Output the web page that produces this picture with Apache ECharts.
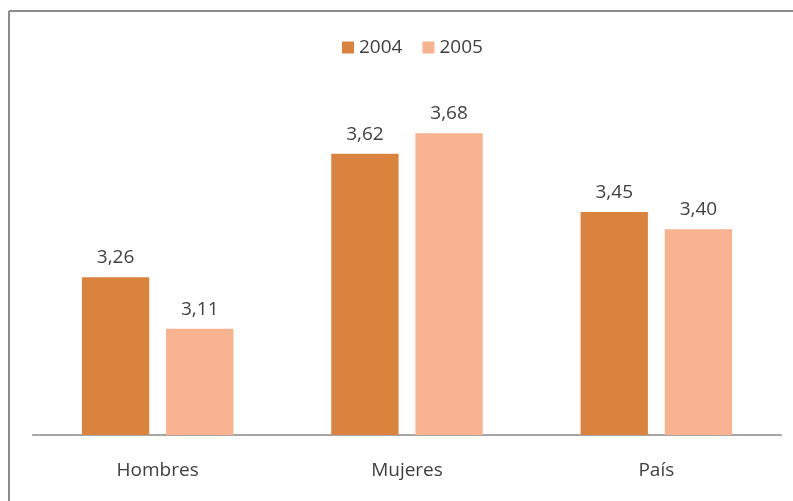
<!DOCTYPE html>
<html>
<head>
<meta charset="utf-8">
<script src="https://cdn.jsdelivr.net/npm/echarts@6/dist/echarts.min.js"></script>
<style>
  html, body { margin: 0; padding: 0; background: #fff; }
  #main { width: 793px; height: 501px; }
</style>
</head>
<body>
<div id="main"></div>
<script>
// datos
let categorias = ["Hombres", "Mujeres", "País"]
let anios = ["2004", "2005"]
let valores2004 = [3.26, 3.62, 3.45]
let valores2005 = [3.11, 3.68, 3.40]

let colores = ["#D9833E", "#F7B38F"]
let fuente = "Open Sans"

var myChart = echarts.init(document.getElementById('main'))

function etiqueta(p) {
  return p.value.toFixed(2).replace(".", ",")
}

var option = {
  animation: false,
  backgroundColor: '#fff',
  textStyle: { fontFamily: fuente },
  legend: {
    data: anios,
    icon: 'rect',
    top: 33,
    left: 337,
    itemWidth: 12,
    itemHeight: 12,
    itemGap: 20,
    textStyle: { fontSize: 19, color: '#404040', fontFamily: fuente }
  },
  grid: { left: 33, right: 12, top: 92, bottom: 66 },
  xAxis: {
    type: 'category',
    data: categorias,
    axisLine: { lineStyle: { color: '#a6a6a6', width: 2 } },
    axisTick: { show: false },
    axisLabel: { fontSize: 19, color: '#404040', margin: 26, fontFamily: fuente }
  },
  yAxis: {
    type: 'value',
    min: 2.8,
    max: 3.8,
    show: false,
    splitLine: { show: false }
  },
  series: [
    {
      name: anios[0],
      type: 'bar',
      data: valores2004,
      barWidth: '27%',
      barGap: '25%',
      itemStyle: { color: colores[0] },
      label: { show: true, position: 'top', distance: 10, fontSize: 19, color: '#404040', formatter: etiqueta }
    },
    {
      name: anios[1],
      type: 'bar',
      data: valores2005,
      barWidth: '27%',
      barGap: '25%',
      itemStyle: { color: colores[1] },
      label: { show: true, position: 'top', distance: 10, fontSize: 19, color: '#404040', formatter: etiqueta }
    }
  ],
  graphic: [
    { type: 'line', shape: { x1: 9, y1: 11, x2: 793, y2: 11 }, style: { stroke: '#8c8c8c', lineWidth: 2 } },
    { type: 'line', shape: { x1: 9, y1: 11, x2: 9, y2: 501 }, style: { stroke: '#8c8c8c', lineWidth: 2 } }
  ]
}

myChart.setOption(option)
</script>
</body>
</html>
